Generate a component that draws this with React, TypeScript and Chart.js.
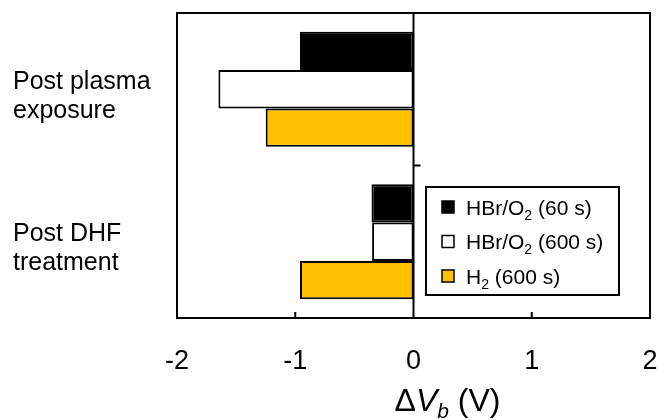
import React, { useEffect, useRef } from "react";
import { Chart, registerables } from "chart.js";

Chart.register(...registerables);

// ---- data ----
const categories: string[][] = [
  ["Post plasma", "exposure"],
  ["Post DHF", "treatment"],
];
const seriesLabels = ["HBr/O_2 (60 s)", "HBr/O_2 (600 s)", "H_2 (600 s)"];
const hbrO2_60s = [-0.96, -0.355];
const hbrO2_600s = [-1.65, -0.35];
const h2_600s = [-1.25, -0.96];
const seriesColors = ["#000000", "#FFFFFF", "#FFC000"];
const xTickValues = [-2, -1, 0, 1, 2];
const xMin = -2;
const xMax = 2;
const titleParts = [
  { t: "\u0394", it: false, sub: false },
  { t: "V", it: true, sub: false },
  { t: "b", it: true, sub: true },
  { t: " (V)", it: false, sub: false },
];

const FONT = "'Liberation Sans', Arial, sans-serif";

type Part = { t: string; it: boolean; sub: boolean };

function parseRich(text: string): Part[] {
  const parts: Part[] = [];
  for (let i = 0; i < text.length; i++) {
    if (text[i] === "_" && i + 1 < text.length) {
      parts.push({ t: text[i + 1], it: false, sub: true });
      i++;
    } else {
      const last = parts[parts.length - 1];
      if (last && !last.sub) last.t += text[i];
      else parts.push({ t: text[i], it: false, sub: false });
    }
  }
  return parts;
}

function fontFor(p: Part, size: number, subSize: number) {
  return `${p.it ? "italic " : ""}${p.sub ? subSize : size}px ${FONT}`;
}

function measureRich(ctx: CanvasRenderingContext2D, parts: Part[], size: number, subSize: number) {
  let w = 0;
  for (const p of parts) {
    ctx.font = fontFor(p, size, subSize);
    w += ctx.measureText(p.t).width;
  }
  return w;
}

function drawRich(
  ctx: CanvasRenderingContext2D,
  parts: Part[],
  x: number,
  baseline: number,
  size: number,
  subSize: number,
  subShift: number
) {
  ctx.textAlign = "left";
  ctx.textBaseline = "alphabetic";
  let cx = x;
  for (const p of parts) {
    ctx.font = fontFor(p, size, subSize);
    ctx.fillText(p.t, cx, baseline + (p.sub ? subShift : 0));
    cx += ctx.measureText(p.t).width;
  }
}

const overlayPlugin = {
  id: "overlay",
  afterDatasetsDraw(chart: any) {
    const { ctx, chartArea: a, scales } = chart;
    const xs = scales.x;
    const ys = scales.y;
    ctx.save();
    ctx.strokeStyle = "#000";
    ctx.fillStyle = "#000";
    ctx.lineWidth = 2;
    ctx.lineCap = "butt";
    // frame
    ctx.strokeRect(a.left, a.top, a.right - a.left, a.bottom - a.top);
    // zero line
    const x0 = xs.getPixelForValue(0);
    ctx.beginPath();
    ctx.moveTo(x0, a.top);
    ctx.lineTo(x0, a.bottom);
    ctx.stroke();
    // inward x ticks
    for (const v of xTickValues) {
      if (v === xMin || v === xMax || v === 0) continue;
      const px = xs.getPixelForValue(v);
      ctx.beginPath();
      ctx.moveTo(px, a.bottom);
      ctx.lineTo(px, a.bottom - 6);
      ctx.stroke();
    }
    // category boundary tick on zero line
    for (let i = 0; i < categories.length - 1; i++) {
      const yb = (ys.getPixelForValue(i) + ys.getPixelForValue(i + 1)) / 2;
      ctx.beginPath();
      ctx.moveTo(x0, yb);
      ctx.lineTo(x0 + 7, yb);
      ctx.stroke();
    }

    // legend
    const bx = a.right - 224;
    const by = a.top + 174;
    const bw = 193;
    const bh = 108;
    ctx.fillStyle = "#fff";
    ctx.fillRect(bx, by, bw, bh);
    ctx.lineWidth = 2;
    ctx.strokeRect(bx, by, bw, bh);
    const rowGap = 34.5;
    seriesLabels.forEach((lab, i) => {
      const cy = by + 20 + i * rowGap;
      const ms = 12;
      ctx.fillStyle = seriesColors[i];
      ctx.fillRect(bx + 16, cy - ms / 2, ms, ms);
      ctx.lineWidth = 1.5;
      ctx.strokeStyle = "#000";
      ctx.strokeRect(bx + 16, cy - ms / 2, ms, ms);
      ctx.fillStyle = "#000";
      drawRich(ctx, parseRich(lab), bx + 40, cy + 7.5, 21, 14, 5);
    });

    // x-axis title
    const size = 32;
    const subSize = 21;
    const tw = measureRich(ctx, titleParts as Part[], size, subSize);
    const tcx = (a.left + a.right) / 2 + 34;
    ctx.fillStyle = "#000";
    drawRich(ctx, titleParts as Part[], tcx - tw / 2, 411, size, subSize, 7);
    ctx.restore();
  },
};

export default function App() {
  const ref = useRef<HTMLCanvasElement | null>(null);
  useEffect(() => {
    if (!ref.current) return;
    const seriesData = [hbrO2_60s, hbrO2_600s, h2_600s];
    const chart = new Chart(ref.current, {
      type: "bar",
      data: {
        labels: categories as any,
        datasets: seriesData.map((d, i) => ({
          label: seriesLabels[i].replace("_2", "\u2082"),
          data: d,
          backgroundColor: seriesColors[i],
          borderColor: "#000",
          borderWidth: 2,
          borderSkipped: false,
          categoryPercentage: 0.755,
          barPercentage: 1,
        })),
      },
      options: {
        indexAxis: "y",
        responsive: false,
        animation: false,
        layout: { padding: { left: 13, top: 13, right: 11, bottom: 0 } },
        plugins: {
          legend: { display: false },
          tooltip: { enabled: false },
          title: { display: false },
        },
        scales: {
          x: {
            type: "linear",
            min: xMin,
            max: xMax,
            afterBuildTicks: (s: any) => {
              s.ticks = xTickValues.map((v) => ({ value: v }));
            },
            grid: { display: false, drawTicks: false },
            border: { display: false },
            ticks: {
              color: "#000",
              font: { family: FONT, size: 27 },
              padding: 27,
              maxRotation: 0,
              autoSkip: false,
            },
            afterFit: (s: any) => {
              s.height = 102;
              s.paddingLeft = 0;
              s.paddingRight = 0;
            },
          },
          y: {
            type: "category",
            grid: { display: false, drawTicks: false },
            border: { display: false },
            ticks: {
              color: "#000",
              font: { family: FONT, size: 25, lineHeight: 1.15 },
              crossAlign: "far",
              padding: 0,
              labelOffset: 7,
              autoSkip: false,
            },
            afterFit: (s: any) => {
              s.width = 164;
              s.paddingTop = 0;
              s.paddingBottom = 0;
            },
          },
        },
      },
      plugins: [overlayPlugin],
    } as any);
    return () => chart.destroy();
  }, []);
  return (
    <div style={{ position: "fixed", left: 0, top: 0, width: 661, height: 420, background: "#fff" }}>
      <canvas ref={ref} width={661} height={420} style={{ display: "block" }} />
    </div>
  );
}
